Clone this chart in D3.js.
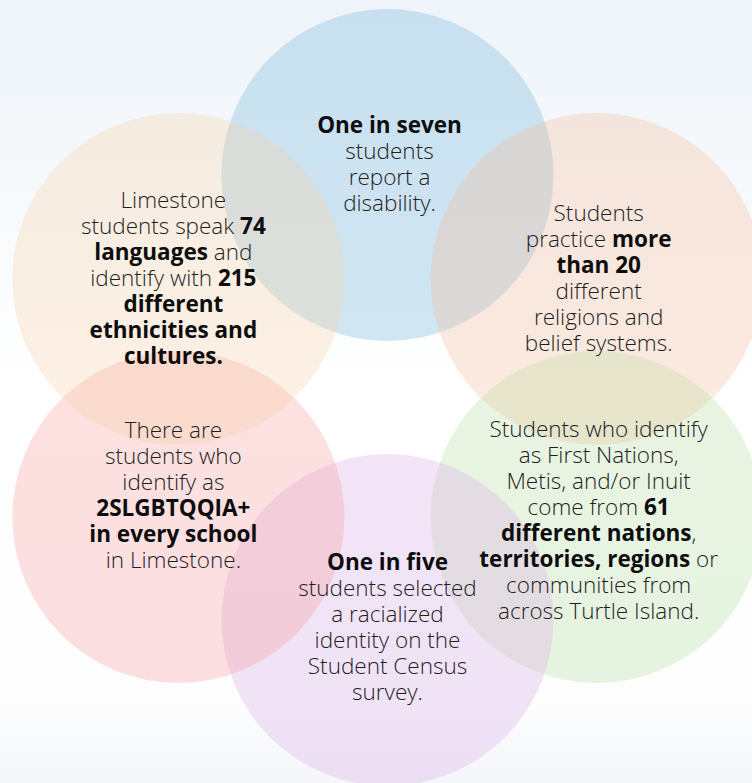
<!DOCTYPE html>
<html>
<head>
<meta charset="utf-8">
<script src="https://cdn.jsdelivr.net/npm/d3@7"></script>
<style>
  body { margin: 0; background: #fff; }
  svg { display: block; }
  text { font-family: "Open Sans", "DejaVu Sans", sans-serif; font-size: 22.5px; font-weight: 300; fill: #1e1e1e; }
  tspan.b { font-weight: 700; fill: #0d0d0d; }
</style>
</head>
<body>
<svg></svg>
<script>
let w = 752
let h = 783

// facts, clockwise from the top circle. each line is a list of [text, bold]
let facts = [
  [[["One in seven", 1]], [["students", 0]], [["report a", 0]], [["disability.", 0]]],
  [[["Students", 0]], [["practice ", 0], ["more", 1]], [["than 20", 1]], [["different", 0]], [["religions and", 0]], [["belief systems.", 0]]],
  [[["Students who identify", 0]], [["as First Nations,", 0]], [["Metis, and/or Inuit", 0]], [["come from ", 0], ["61", 1]],
   [["different nations", 1], [",", 0]], [["territories, regions", 1], [" or", 0]], [["communities from", 0]], [["across Turtle Island.", 0]]],
  [[["One in five", 1]], [["students selected", 0]], [["a racialized", 0]], [["identity on the", 0]], [["Student Census", 0]], [["survey.", 0]]],
  [[["There are", 0]], [["students who", 0]], [["identify as", 0]], [["2SLGBTQQIA+", 1]], [["in every school", 1]], [["in Limestone.", 0]]],
  [[["Limestone", 0]], [["students speak ", 0], ["74", 1]], [["languages", 1], [" and", 0]], [["identify with ", 0], ["215", 1]],
   [["different", 1]], [["ethnicities and", 1]], [["cultures.", 1]]]
]

let colors = ["#6cafd7", "#f5b998", "#b6de9f", "#d7a8e4", "#fa9999", "#fad0a5"]

// nudge of each text block, in lines / px
let lineShift = [-0.4, 0, 0.15, 0.3, -0.8, 0]
let sideShift = [2, 2, 2, 0, -5, -5]

let r = 166
let lineH = 26
let angles = facts.map((d, i) => i * Math.PI / 3)

let xScale = d3.scaleLinear().domain([-1, 1]).range([146, 629])
let yScale = d3.scaleLinear().domain([-1, -0.5, 0.5, 1]).range([175, 279, 517, 620])

let svg = d3.select("svg").attr("width", w).attr("height", h)

let defs = svg.append("defs")
let grad = defs.append("linearGradient")
               .attr("id", "bg")
               .attr("x1", 0).attr("y1", 0).attr("x2", 0).attr("y2", 1)
grad.selectAll("stop")
    .data([[0, "#eef4f9"], [0.5, "#ffffff"], [0.9, "#fdfdfe"], [0.94, "#f9fafc"], [1, "#f5f6f9"]])
    .enter().append("stop")
    .attr("offset", d => d[0])
    .attr("stop-color", d => d[1])

svg.append("rect").attr("width", w).attr("height", h).attr("fill", "url(#bg)")

svg.selectAll("circle")
   .data(facts)
   .enter()
   .append("circle")
   .attr("cx", (d, i) => xScale(Math.sin(angles[i])))
   .attr("cy", (d, i) => yScale(-Math.cos(angles[i])))
   .attr("r", r)
   .attr("fill", (d, i) => colors[i])
   .attr("fill-opacity", 0.3)

let blocks = svg.selectAll("g.fact")
   .data(facts)
   .enter()
   .append("g")
   .attr("class", "fact")
   .attr("transform", (d, i) => {
     let cx = xScale(Math.sin(angles[i])) + sideShift[i]
     let cy = yScale(-Math.cos(angles[i]))
     let top = cy - (d.length - 1) * lineH / 2 + 7 + lineShift[i] * lineH
     return "translate(" + cx + "," + top + ")"
   })

blocks.selectAll("text")
   .data(d => d)
   .enter()
   .append("text")
   .attr("text-anchor", "middle")
   .attr("y", (d, i) => i * lineH)
   .selectAll("tspan")
   .data(d => d)
   .enter()
   .append("tspan")
   .attr("class", d => d[1] ? "b" : null)
   .text(d => d[0])
</script>
</body>
</html>
